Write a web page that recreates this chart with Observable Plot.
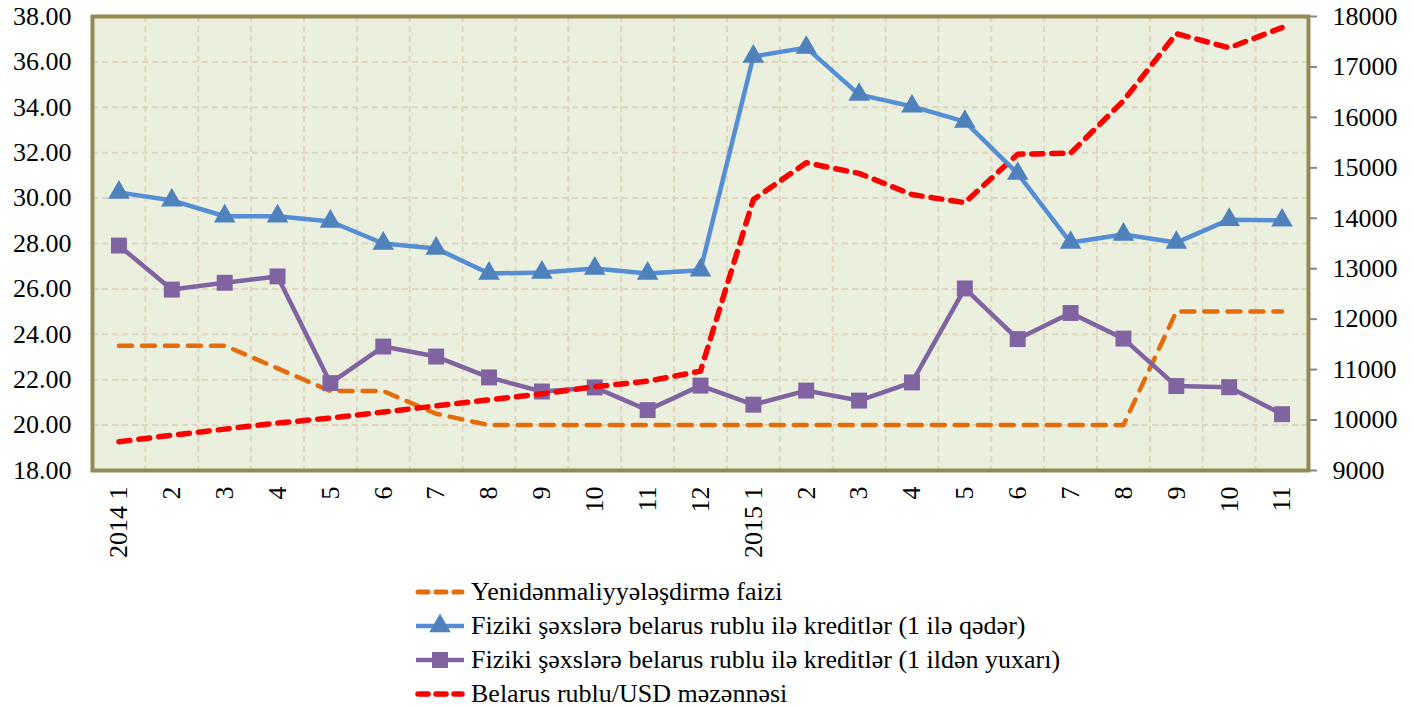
<!DOCTYPE html>
<html>
<head>
<meta charset="utf-8">
<script src="https://cdn.jsdelivr.net/npm/d3@7"></script>
<script src="https://cdn.jsdelivr.net/npm/@observablehq/plot@0.6"></script>
<style>
  html, body { margin: 0; padding: 0; background: #fff; }
  #wrap { width: 1414px; height: 708px; position: relative; overflow: hidden; font-family: "Liberation Serif", "Times New Roman", serif; }
  #legend { position: absolute; left: 415px; top: 575px; }
  .row { height: 34px; display: flex; align-items: center; color: #000; white-space: nowrap; font-size: 26px; }
  .row svg { flex: none; margin-right: 6px; }
</style>
</head>
<body>
<div id="wrap">
  <div id="chart"></div>
  <div id="legend"></div>
</div>
<script>
// Categories (months)
const xLabels = ["2014 1","2","3","4","5","6","7","8","9","10","11","12",
                 "2015 1","2","3","4","5","6","7","8","9","10","11"];
// Refinancing rate (%)
const refinRate = [23.5,23.5,23.5,22.5,21.5,21.5,20.5,20,20,20,20,20,
                   20,20,20,20,20,20,20,20,25,25,25];
// Loans to individuals in BYR, up to 1 year (%)
const loansShort = [30.25,29.9,29.2,29.2,28.97,28.0,27.78,26.68,26.72,26.9,26.68,26.82,
                    36.24,36.63,34.56,34.04,33.37,31.08,28.04,28.4,28.04,29.05,29.02];
// Loans to individuals in BYR, over 1 year (%)
const loansLong = [27.91,25.97,26.27,26.55,21.85,23.46,23.02,22.1,21.48,21.66,20.66,21.74,
                   20.9,21.52,21.08,21.88,26.02,23.79,24.94,23.81,21.72,21.67,20.48];
// BYR/USD exchange rate (right axis)
const exRate = [9570,9700,9820,9940,10040,10160,10280,10400,10520,10660,10770,10970,
                14370,15100,14890,14470,14310,15270,15290,16330,17660,17380,17780];
const leftTicks = [18,20,22,24,26,28,30,32,34,36,38];
const rightTicks = [9000,10000,11000,12000,13000,14000,15000,16000,17000,18000];

const series = {
  refin: "Yenidənmaliyyələşdirmə faizi",
  short: "Fiziki şəxslərə belarus rublu ilə kreditlər (1 ilə qədər)",
  long: "Fiziki şəxslərə belarus rublu ilə kreditlər (1 ildən yuxarı)",
  rate: "Belarus rublu/USD məzənnəsi"
};

// map right-axis value onto left scale
const toLeft = r => 18 + (r - 9000) * 20 / 9000;
const fromLeft = v => Math.round(9000 + (v - 18) * 9000 / 20);

const idx = xLabels.map((_, i) => i);
const dRefin = idx.map(i => ({i, v: refinRate[i]}));
const dShort = idx.map(i => ({i, v: loansShort[i]}));
const dLong = idx.map(i => ({i, v: loansLong[i]}));
const dRate = idx.map(i => ({i, v: toLeft(exRate[i])}));

const cOrange = "#E46C0A", cBlue = "#558ED5", cBlueM = "#4F81BD", cPurple = "#8064A2", cRed = "#FF0000";
const gridColor = "#DED6BF";

const vGrid = idx.slice(0, -1).map(i => i + 0.5);
const hGrid = leftTicks.slice(1, -1);
const FONT = "Liberation Serif, Times New Roman, serif";

const chart = Plot.plot({
  width: 1414,
  height: 560,
  marginLeft: 92,
  marginRight: 106,
  marginTop: 16,
  marginBottom: 90,
  style: { fontFamily: FONT, fontSize: "26px", color: "#000", background: "transparent", overflow: "visible" },
  x: { domain: [-0.5, 22.5], axis: null },
  y: { domain: [18, 38], axis: null },
  marks: [
    Plot.frame({ fill: "#EBF0DE", stroke: null }),
    Plot.ruleX(vGrid, { stroke: gridColor, strokeWidth: 2, strokeDasharray: "6,4" }),
    Plot.ruleY(hGrid, { stroke: gridColor, strokeWidth: 2, strokeDasharray: "6,4" }),
    Plot.frame({ stroke: "#948A54", strokeWidth: 4 }),
    Plot.axisY(leftTicks, { anchor: "left", label: null, tickSize: 0, tickPadding: 21, tickFormat: d => d.toFixed(2), fontSize: 26 }),
    Plot.axisY(rightTicks.map(toLeft), { anchor: "right", label: null, tickSize: 8, tickPadding: 16, stroke: "#868686", strokeWidth: 2, tickFormat: d => String(fromLeft(d)), fontSize: 26 }),
    Plot.axisX(idx, { anchor: "bottom", label: null, tickSize: 0, tickPadding: 16, tickRotate: -90, tickFormat: i => xLabels[i], fontSize: 26 }),
    Plot.line(dRefin, { x: "i", y: "v", stroke: cOrange, strokeWidth: 4.5, strokeDasharray: "13,10", strokeLinecap: "round" }),
    Plot.line(dLong, { x: "i", y: "v", stroke: cPurple, strokeWidth: 4.5 }),
    Plot.dot(dLong, { x: "i", y: "v", symbol: "square", r: 9, fill: cPurple, stroke: null }),
    Plot.line(dRate, { x: "i", y: "v", stroke: cRed, strokeWidth: 5.5, strokeDasharray: "11,9", strokeLinecap: "round" }),
    Plot.line(dShort, { x: "i", y: "v", stroke: cBlue, strokeWidth: 4.5 }),
    Plot.dot(dShort, { x: "i", y: "v", symbol: "triangle", r: 8, fill: cBlueM, stroke: null })
  ]
});
document.getElementById("chart").appendChild(chart);

// Legend
const legendItems = [
  { label: series.refin, color: cOrange, dash: "10,8", width: 5, marker: null },
  { label: series.short, color: cBlue, dash: null, width: 4.5, marker: "triangle", mcolor: cBlueM },
  { label: series.long, color: cPurple, dash: null, width: 4.5, marker: "square", mcolor: cPurple },
  { label: series.rate, color: cRed, dash: "10,8", width: 5.5, marker: null }
];
const legend = document.getElementById("legend");
for (const it of legendItems) {
  const row = document.createElement("div");
  row.className = "row";
  const ns = "http://www.w3.org/2000/svg";
  const s = document.createElementNS(ns, "svg");
  s.setAttribute("width", 50); s.setAttribute("height", 30);
  const ln = document.createElementNS(ns, "line");
  ln.setAttribute("x1", it.dash ? 3 : 1); ln.setAttribute("x2", it.dash ? 47 : 49);
  ln.setAttribute("y1", 15); ln.setAttribute("y2", 15);
  ln.setAttribute("stroke", it.color); ln.setAttribute("stroke-width", it.width);
  if (it.dash) { ln.setAttribute("stroke-dasharray", it.dash); ln.setAttribute("stroke-linecap", "round"); }
  s.appendChild(ln);
  if (it.marker === "triangle") {
    const p = document.createElementNS(ns, "path");
    p.setAttribute("d", d3.symbol(d3.symbolTriangle, Math.PI * 64)());
    p.setAttribute("transform", "translate(25,15)");
    p.setAttribute("fill", it.mcolor);
    s.appendChild(p);
  } else if (it.marker === "square") {
    const p = document.createElementNS(ns, "path");
    p.setAttribute("d", d3.symbol(d3.symbolSquare, Math.PI * 81)());
    p.setAttribute("transform", "translate(25,15)");
    p.setAttribute("fill", it.mcolor);
    s.appendChild(p);
  }
  row.appendChild(s);
  const t = document.createElement("span");
  t.textContent = it.label;
  row.appendChild(t);
  legend.appendChild(row);
}
</script>
</body>
</html>
